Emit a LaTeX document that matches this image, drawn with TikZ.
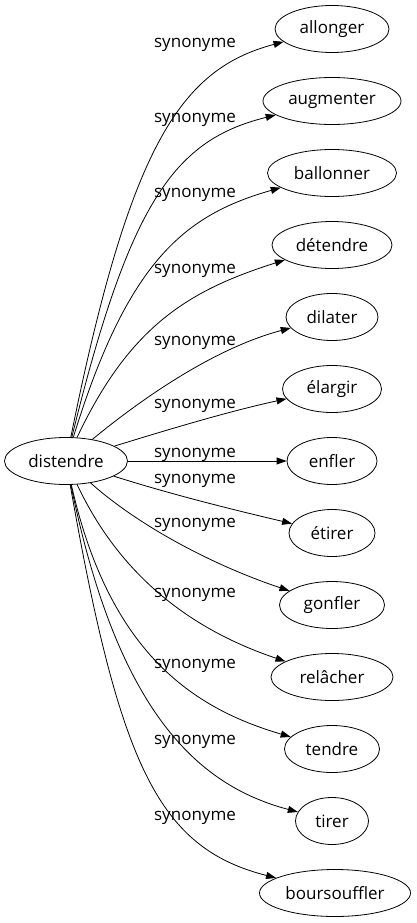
\documentclass[tikz,border=0pt]{standalone}
\usepackage{fontspec}
\setmainfont{Open Sans}
\usetikzlibrary{shapes.geometric,arrows.meta}
\begin{document}
\begin{tikzpicture}[x=1pt,y=-1pt,
  font=\fontsize{17}{20}\selectfont,
  word/.style={draw, ellipse, inner sep=0pt, minimum height=47pt, line width=0.8pt},
  edge/.style={line width=0.8pt, -{Triangle[length=10pt,width=7pt]}},
  lab/.style={anchor=base, inner sep=0pt}]
\useasboundingbox (0,0) rectangle (416,923);
\node[word, minimum width=123pt] (d) at (66,461) {distendre};
\node[word, minimum width=114pt] (n0) at (332,29) {allonger};
\node[word, minimum width=138pt] (n1) at (332,101) {augmenter};
\node[word, minimum width=129pt] (n2) at (332,173) {ballonner};
\node[word, minimum width=120pt] (n3) at (332,245) {détendre};
\node[word, minimum width=92pt] (n4) at (332,317) {dilater};
\node[word, minimum width=99pt] (n5) at (332,389) {élargir};
\node[word, minimum width=90pt] (n6) at (332,461) {enfler};
\node[word, minimum width=86pt] (n7) at (332,533) {étirer};
\node[word, minimum width=105pt] (n8) at (332,605) {gonfler};
\node[word, minimum width=122pt] (n9) at (332,677) {relâcher};
\node[word, minimum width=95pt] (n10) at (332,749) {tendre};
\node[word, minimum width=73pt] (n11) at (332,821) {tirer};
\node[word, minimum width=151pt] (n12) at (335,893) {boursouffler};

\draw[edge] (d) .. controls (130,144) and (181,69) .. (n0);
\draw[edge] (d) .. controls (130,200) and (175,140) .. (n1);
\draw[edge] (d) .. controls (128,260) and (185,215) .. (n2);
\draw[edge] (d) .. controls (130,325) and (190,290) .. (n3);
\draw[edge] (d) .. controls (150,392) and (219,347) .. (n4);
\draw[edge] (d) .. controls (170,429) and (230,411) .. (n5);
\draw[edge] (d) -- (n6);
\draw[edge] (d) .. controls (170,494) and (230,509) .. (n7);
\draw[edge] (d) .. controls (140,527) and (215,566) .. (n8);
\draw[edge] (d) .. controls (124,584) and (201,633) .. (n9);
\draw[edge] (d) .. controls (109,652) and (192,708) .. (n10);
\draw[edge] (d) .. controls (117,710) and (196,785) .. (n11);
\draw[edge] (d) .. controls (120,768) and (159,848) .. (n12);

\node[lab] (l0) at (195,48) {synonyme};
\node[lab] (l1) at (195,122) {synonyme};
\node[lab] (l2) at (195,197) {synonyme};
\node[lab] (l3) at (195,273) {synonyme};
\node[lab] (l4) at (195,345) {synonyme};
\node[lab] (l5) at (195,408) {synonyme};
\node[lab] (l6) at (195,457) {synonyme};
\node[lab] (l7) at (195,483) {synonyme};
\node[lab] (l8) at (195,527) {synonyme};
\node[lab] (l9) at (195,597) {synonyme};
\node[lab] (l10) at (195,668) {synonyme};
\node[lab] (l11) at (195,744) {synonyme};
\node[lab] (l12) at (195,820) {synonyme};
\end{tikzpicture}
\end{document}
